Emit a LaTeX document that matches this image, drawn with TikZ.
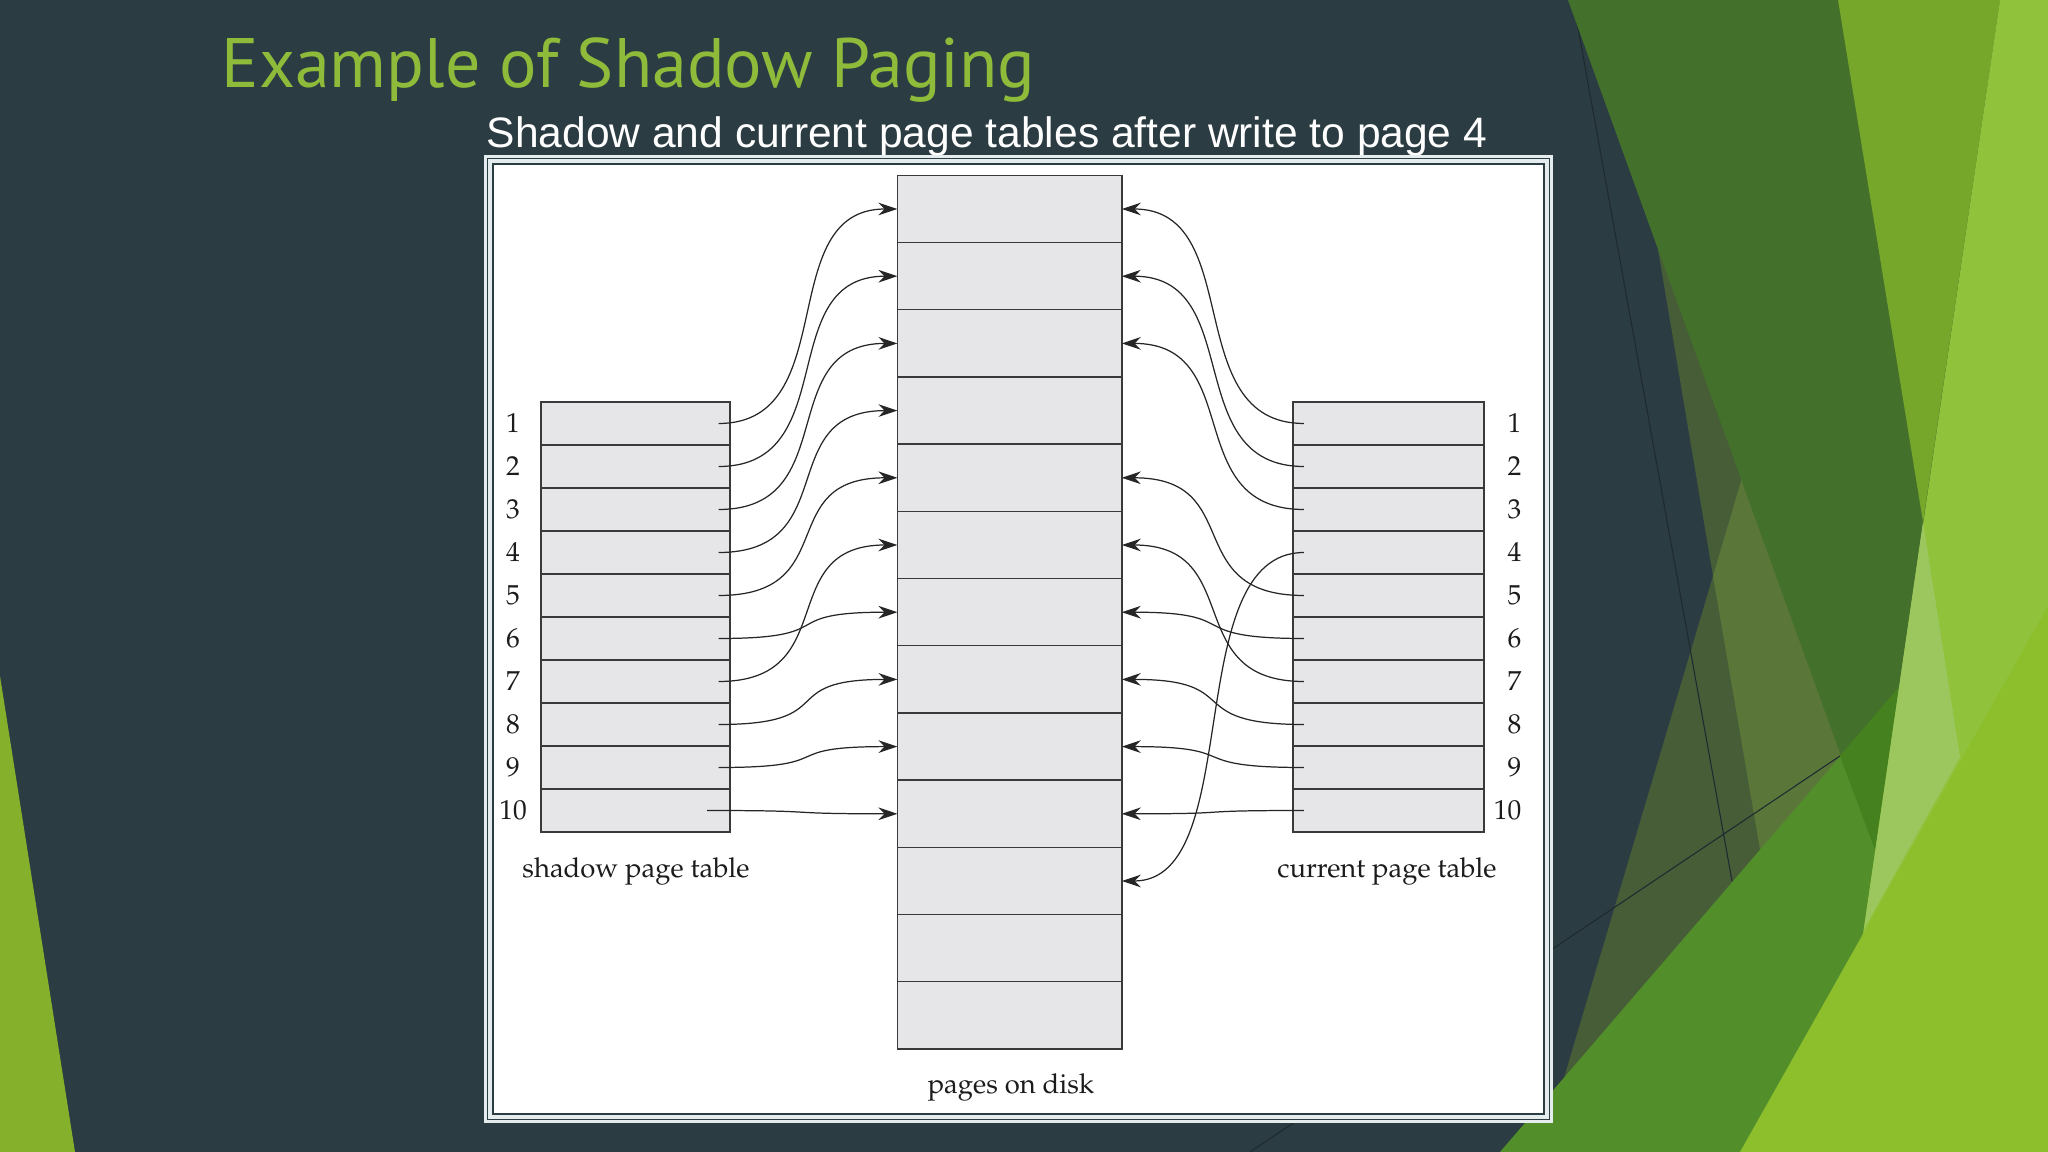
\documentclass[tikz,border=0pt]{standalone}
\usepackage[T1]{fontenc}
\usepackage{fontspec}
\usetikzlibrary{arrows.meta}
\newfontfamily\titlefont{PT Sans}
\newfontfamily\subtitlefont{Liberation Sans}
\newfontfamily\figserif{Liberation Serif}
\IfFileExists{t1qpl.fd}
  {\newcommand\figfont{\fontencoding{T1}\fontfamily{qpl}\fontsize{7.8}{9}\selectfont}}
  {\IfFileExists{t1ppl.fd}
    {\newcommand\figfont{\fontencoding{T1}\fontfamily{ppl}\fontsize{7.8}{9}\selectfont}}
    {\newcommand\figfont{\figserif\fontsize{8.6}{10}\selectfont}}}
\definecolor{slate}{HTML}{2C3C43}
\definecolor{leftgreen}{HTML}{84B02C}
\definecolor{titlegreen}{HTML}{8EBC3A}
\definecolor{greydark}{HTML}{465D38}
\definecolor{greylight}{HTML}{5A7639}
\definecolor{darkgreen}{HTML}{43702A}
\definecolor{olive}{HTML}{76A62A}
\definecolor{midgreen}{HTML}{528E2A}
\definecolor{deepgreen}{HTML}{46811F}
\definecolor{lightgreen}{HTML}{90C23B}
\definecolor{palegreen}{HTML}{9CC75E}
\definecolor{brightgreen}{HTML}{8DBF2D}
\definecolor{lineshade}{HTML}{1E2A2F}
\definecolor{framestrip}{HTML}{E4ECEE}
\definecolor{boxgray}{HTML}{E6E6E8}
\definecolor{boxline}{HTML}{3A3A3A}
\definecolor{figtext}{HTML}{1C1C1C}
\definecolor{linkcol}{HTML}{262626}

\begin{document}
\begin{tikzpicture}[x=0.01cm,y=-0.01cm,
    row/.style={draw=boxline,fill=boxgray,line width=0.4pt,minimum width=1.89cm,minimum height=0.43cm,inner sep=0pt,outer sep=0pt},
    page/.style={row,minimum width=2.243cm,minimum height=0.672cm},
    num/.style={font=\figfont,text=figtext,inner sep=0pt},
    link/.style={-{Stealth[length=5.4pt,width=3.6pt]},line width=0.35pt,draw=linkcol},
    bgline/.style={draw=lineshade,line width=0.3pt}]
    \useasboundingbox (0,0) rectangle (2048,1152);
    \fill[slate] (0,0) rectangle (2048,1152);
    \fill[leftgreen] (0,676) -- (75,1152) -- (0,1152) -- cycle;
    \fill[greydark] (1616,0) -- (1713,576) -- (1542,1152) -- (2048,1152) -- (2048,0) -- cycle;
    \fill[greylight] (1883,0) -- (1713,576) -- (1812,1152) -- (2048,1152) -- (2048,0) -- cycle;
    \draw[bgline] (1573,0) -- (1732,881);
    \draw[bgline] (1250,1152) -- (1840,756);
    \fill[darkgreen] (1568,0) -- (2000,0) -- (1875,850) -- cycle;
    \fill[olive] (1838,0) -- (2000,0) -- (1923,522) -- cycle;
    \fill[midgreen] (1500,1152) -- (2048,515) -- (2048,1152) -- cycle;
    \fill[deepgreen] (1840,756) -- (1899,687) -- (1875,850) -- cycle;
    \fill[lightgreen] (2000,0) -- (2048,0) -- (2048,1152) -- (1831,1152) -- cycle;
    \fill[palegreen] (1923,522) -- (1960,757) -- (1864,929) -- cycle;
    \fill[brightgreen] (2048,606) -- (2048,1152) -- (1740,1152) -- cycle;

    \node[anchor=base west,inner sep=0pt,text=titlegreen,font=\titlefont\fontsize{19.9}{24}\selectfont] (title) at (221,88) {Example of Shadow Paging};
    \node[anchor=base west,inner sep=0pt,text=white,font=\subtitlefont\fontsize{12.1}{14}\selectfont] (subtitle) at (486,148) {Shadow and current page tables after write to page 4};

    \fill[framestrip] (484,155) rectangle (1553,1123);
    \draw[slate,line width=0.34pt] (487.5,158.5) rectangle (1549.5,1119.5);
    \fill[white] (493,164) rectangle (1544,1114);
    \draw[slate,line width=0.34pt] (493,164) rectangle (1544,1114);

    \foreach \i in {1,...,13}
        \node[page] (p\i) at (1009.6,{209+67.2*(\i-1)}) {};
    \foreach \i in {1,...,10} {
        \node[row] (s\i) at (635.5,{423.5+43*(\i-1)}) {};
        \node[row,minimum width=1.91cm] (c\i) at (1388.5,{423.5+43*(\i-1)}) {};
        \node[num] (sn\i) at (513,{423.5+43*(\i-1)}) {\i};
        \node[num,anchor=east] (cn\i) at (1522,{423.5+43*(\i-1)}) {\i};
    }
    \node[num,anchor=base] (shadowlbl) at (636,877) {shadow page table};
    \node[num,anchor=base] (currentlbl) at (1387,877) {current page table};
    \node[num,anchor=base] (disklbl) at (1011,1093) {pages on disk};

    \foreach \i/\j/\k in {1/1/0.115,2/2/0.115,3/3/0.115,4/4/0.115,5/5/0.115,6/7/0.115,7/6/0.115,8/8/0.115,9/9/0.115,10/10/0.23}
        \draw[link] ([xshift=-\k cm]s\i.east) .. controls +(125,0) and +(-125,0) .. (p\j.west);
    \foreach \i/\j in {1/1,2/2,3/3,4/11,5/5,6/7,7/6,8/8,9/9,10/10}
        \draw[link] ([xshift=0.11cm]c\i.west) .. controls +(-125,0) and +(125,0) .. (p\j.east);
\end{tikzpicture}
\end{document}
